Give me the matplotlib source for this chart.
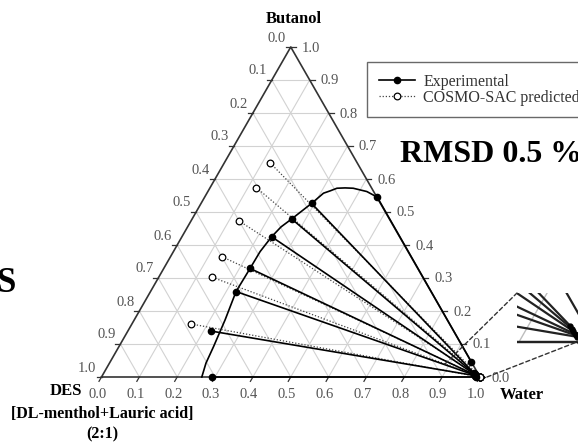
import numpy as np
import matplotlib
matplotlib.use('Agg')
import matplotlib.pyplot as plt
from matplotlib.lines import Line2D
from matplotlib.patches import ConnectionPatch

plt.rcParams['font.family'] = ['Liberation Serif', 'DejaVu Serif']

# experimental tie lines, DES-rich phase -> water-rich phase (water, butanol fractions)
exp_des_water = [0.291, 0.221, 0.226, 0.228, 0.237, 0.263, 0.292, 0.456]
exp_des_butanol = [0.000, 0.139, 0.259, 0.329, 0.425, 0.479, 0.526, 0.545]
exp_aq_water = [0.990, 0.986, 0.985, 0.984, 0.982, 0.980, 0.978, 0.955]
exp_aq_butanol = [0.000, 0.004, 0.005, 0.006, 0.008, 0.010, 0.012, 0.045]

# COSMO-SAC predicted tie lines
pred_des_water = [0.155, 0.142, 0.135, 0.125, 0.122, 0.121]
pred_des_butanol = [0.161, 0.302, 0.365, 0.474, 0.574, 0.649]
pred_aq_water = [1.000, 1.000, 1.000, 1.000, 1.000, 1.000]
pred_aq_butanol = [0.000, 0.000, 0.000, 0.000, 0.000, 0.000]

# binodal curve
binodal_water = [0.265, 0.255, 0.250, 0.240, 0.226, 0.228, 0.229, 0.237, 0.247,
                 0.263, 0.292, 0.308, 0.322, 0.336, 0.357, 0.379, 0.420, 0.456]
binodal_butanol = [0.000, 0.042, 0.092, 0.173, 0.259, 0.329, 0.380, 0.425, 0.455,
                   0.479, 0.526, 0.557, 0.564, 0.572, 0.573, 0.572, 0.562, 0.545]

ticks = [0.0, 0.1, 0.2, 0.3, 0.4, 0.5, 0.6, 0.7, 0.8, 0.9, 1.0]
tick_labels = ['0.0', '0.1', '0.2', '0.3', '0.4', '0.5', '0.6', '0.7', '0.8', '0.9', '1.0']


def tern(w, b):
    w = np.asarray(w, dtype=float)
    b = np.asarray(b, dtype=float)
    return w + b / 2.0, b


W, H = 578, 442
fig = plt.figure(figsize=(W / 100, H / 100), dpi=100)
fig.patch.set_facecolor('white')

# triangle placement on the canvas (pixels)
left_px, base_px, side_px, height_px = 101.5, 377.0, 378.5, 330.0
ax = fig.add_axes([0, 0, 1, 1])
ax.set_xlim(-left_px / side_px, (W - left_px) / side_px)
ax.set_ylim(-(H - base_px) / height_px, base_px / height_px)
ax.axis('off')

px = 0.72  # pixels -> points

grid_col = '#d2d2d2'
edge_col = '#333333'
lab_col = '#555555'

# grid
for t in ticks[1:-1]:
    x, y = tern([0, 1 - t], [t, t])
    ax.plot(x, y, color=grid_col, lw=0.8, zorder=1)
    x, y = tern([t, t], [0, 1 - t])
    ax.plot(x, y, color=grid_col, lw=0.8, zorder=1)
    x, y = tern([1 - t, 0], [0, 1 - t])
    ax.plot(x, y, color=grid_col, lw=0.8, zorder=1)

# frame
x, y = tern([0, 1, 0, 0], [0, 0, 1, 0])
ax.plot(x, y, color=edge_col, lw=1.2, zorder=2)

# ticks and tick labels
tl = 5.0
for t, lab in zip(ticks, tick_labels):
    # bottom: water
    x, y = tern(t, 0)
    ax.plot([x, x - 0.5 * tl / side_px], [y, y - 0.866 * tl / height_px], color=edge_col, lw=0.9)
    ax.annotate(lab, (x, y), xytext=(-4 * px, -18 * px), textcoords='offset points',
                ha='center', va='center', fontsize=10.5, color=lab_col)
    # right: butanol
    x, y = tern(1 - t, t)
    ax.plot([x, x + tl / side_px], [y, y], color=edge_col, lw=0.9)
    ax.annotate(lab, (x, y), xytext=(11 * px, -1 * px), textcoords='offset points',
                ha='left', va='center', fontsize=10.5, color=lab_col)
    # left: DES
    x, y = tern(0, 1 - t)
    ax.plot([x, x - tl / side_px], [y, y], color=edge_col, lw=0.9)
    ax.annotate(lab, (x, y), xytext=(-5 * px, 9 * px), textcoords='offset points',
                ha='right', va='center', fontsize=10.5, color=lab_col)

# axis titles
ax.annotate('Butanol', tern(0, 1), xytext=(3 * px, 28 * px), textcoords='offset points',
            ha='center', va='center', fontsize=12, fontweight='bold')
ax.annotate('Water', tern(1, 0), xytext=(41.5 * px, -18 * px), textcoords='offset points',
            ha='center', va='center', fontsize=12, fontweight='bold')
ax.annotate('DES', tern(0, 0), xytext=(-35.5 * px, -14 * px), textcoords='offset points',
            ha='center', va='center', fontsize=12, fontweight='bold')
ax.annotate('[DL-menthol+Lauric acid]', tern(0, 0), xytext=(0.5 * px, -36.5 * px),
            textcoords='offset points', ha='center', va='center', fontsize=11.5, fontweight='bold')
ax.annotate('(2:1)', tern(0, 0), xytext=(0.5 * px, -57.5 * px),
            textcoords='offset points', ha='center', va='center', fontsize=11.5, fontweight='bold')

# binodal curve
ax.plot(*tern(binodal_water, binodal_butanol), color='k', lw=1.2, zorder=3)

# predicted tie lines
for w1, b1, w2, b2 in zip(pred_des_water, pred_des_butanol, pred_aq_water, pred_aq_butanol):
    x, y = tern([w1, w2], [b1, b2])
    ax.plot(x, y, ls=(0, (1, 1.5)), color='#444444', lw=0.9, zorder=3)
ax.plot(*tern(pred_des_water, pred_des_butanol), 'o', ms=4.8, mfc='white', mec='k', mew=0.9, zorder=5)
ax.plot(*tern(pred_aq_water, pred_aq_butanol), 'o', ms=4.8, mfc='white', mec='k', mew=0.9, zorder=5)

# experimental tie lines
for w1, b1, w2, b2 in zip(exp_des_water, exp_des_butanol, exp_aq_water, exp_aq_butanol):
    x, y = tern([w1, w2], [b1, b2])
    ax.plot(x, y, color='k', lw=1.2, zorder=4)
ax.plot(*tern(exp_des_water, exp_des_butanol), 'o', ms=4.5, color='k', zorder=6)
ax.plot(*tern(exp_aq_water, exp_aq_butanol), 'o', ms=4.5, color='k', zorder=6)

# legend
h_exp = Line2D([], [], color='k', lw=1.2, marker='o', ms=4.5, label='Experimental')
h_pred = Line2D([], [], color='#444444', lw=0.9, ls=(0, (1, 1.5)), marker='o', ms=4.8,
                mfc='white', mec='k', mew=0.9, label='COSMO-SAC predicted')
leg = ax.legend(handles=[h_exp, h_pred], loc='upper left',
                bbox_to_anchor=(367 / W, 1 - 62 / H), bbox_transform=fig.transFigure,
                fontsize=11.5, frameon=True, fancybox=False, edgecolor='#444444',
                borderpad=0.72, labelspacing=0.0, handlelength=2.3, handletextpad=0.5,
                borderaxespad=0, numpoints=1)
leg.get_frame().set_linewidth(1.0)
for t in leg.get_texts():
    t.set_color('#333333')

fig.text(400 / W, 1 - 162 / H, 'RMSD 0.5 %', ha='left', va='baseline',
         fontsize=23, fontweight='bold')
fig.text(15 / W, 1 - 283 / H, 'S', ha='right', va='center', fontsize=25, fontweight='bold')

# magnified view of the water corner
mag = 4.0
ins_l, ins_r, ins_t, ins_b = 517, 640, 293, 345
cx, cx_px, base_in_px = 0.987, 575, 342
ax_in = fig.add_axes([ins_l / W, (H - ins_b) / H, (ins_r - ins_l) / W, (ins_b - ins_t) / H])
ax_in.set_xlim(cx - (cx_px - ins_l) / (mag * side_px), cx + (ins_r - cx_px) / (mag * side_px))
ax_in.set_ylim(-(ins_b - base_in_px) / (mag * height_px), (base_in_px - ins_t) / (mag * height_px))
ax_in.axis('off')
ax_in.patch.set_alpha(0)
x, y = tern([0.95, 0.95], [0, 0.05])
ax_in.plot(x, y, color='#bdbdbd', lw=1.0)
x, y = tern([0, 1, 0], [0, 0, 1])
ax_in.plot(x, y, color='#222222', lw=1.6)
for w1, b1, w2, b2 in zip(exp_des_water, exp_des_butanol, exp_aq_water, exp_aq_butanol):
    x, y = tern([w1, w2], [b1, b2])
    ax_in.plot(x, y, color='#222222', lw=1.6)
ax_in.plot(*tern(exp_aq_water, exp_aq_butanol), 'o', ms=3.5, color='k')

zoom_X = (0.9075, 1.0185)
zoom_b = (0.0, 0.0394)
for xyA, xyB in [((zoom_X[0], zoom_b[1]), (0.0, 1.0)), ((zoom_X[1], zoom_b[0]), (1.0, 0.53))]:
    con = ConnectionPatch(xyA=xyA, coordsA=ax.transData, xyB=xyB, coordsB=ax_in.transAxes,
                          ls=(0, (3, 2)), color='#333333', lw=1.0)
    fig.add_artist(con)

fig.savefig('out.png', dpi=100)
